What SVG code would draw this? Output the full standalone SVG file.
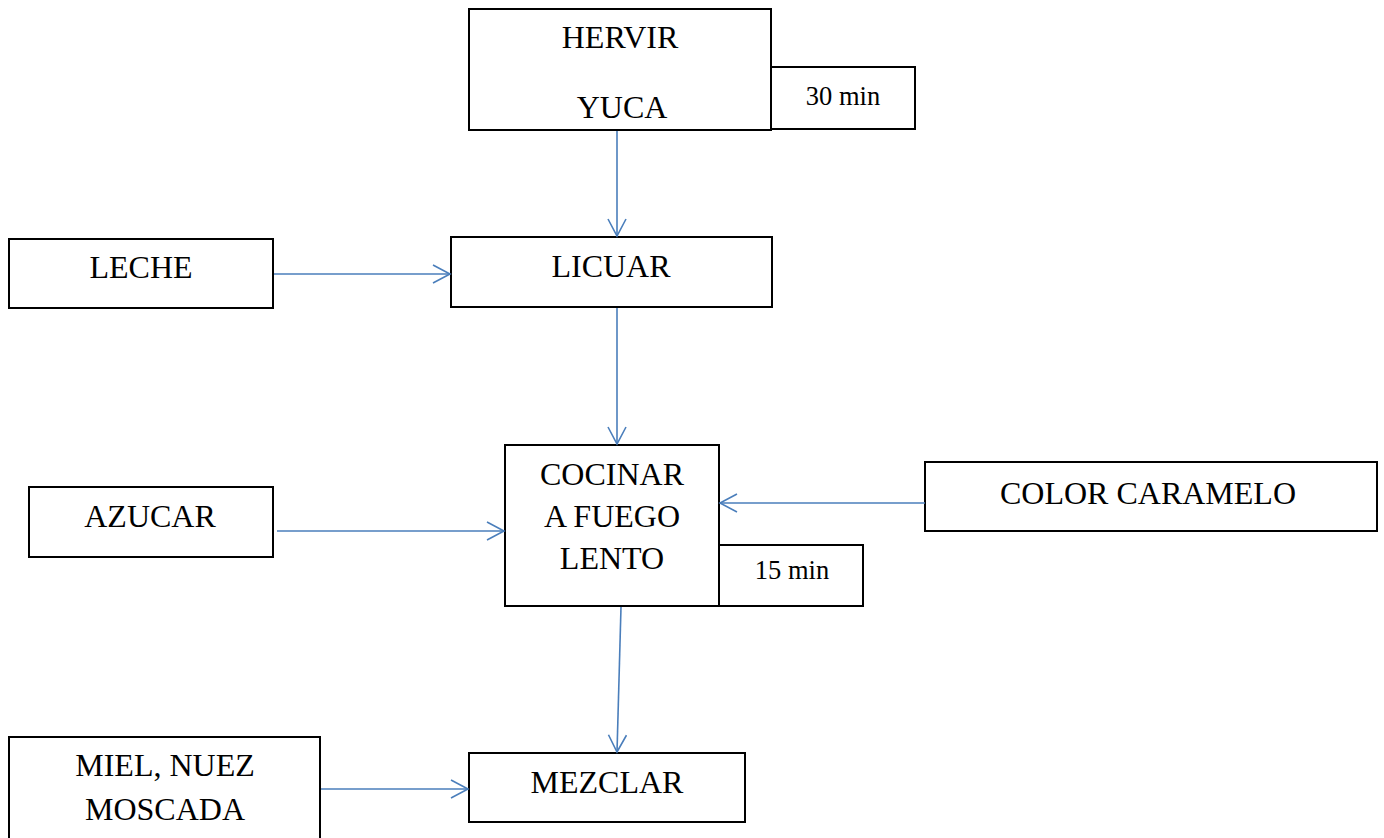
<svg xmlns="http://www.w3.org/2000/svg" width="1384" height="838" viewBox="0 0 1384 838">
<style>
.box{fill:#fff;stroke:#000;stroke-width:2}
.t{font-family:"Liberation Serif","Times New Roman",serif;font-size:32px;fill:#000;text-anchor:middle}
.s{font-family:"Liberation Serif","Times New Roman",serif;font-size:26.5px;fill:#000;text-anchor:middle}
.c{fill:none;stroke:#4A7EBB;stroke-width:1.6}
</style>
<defs>
<marker id="ah" markerUnits="userSpaceOnUse" viewBox="0 0 20 20" refX="18" refY="10" markerWidth="20" markerHeight="20" orient="auto">
<path d="M1,1 L18,10 L1,19" fill="none" stroke="#4A7EBB" stroke-width="1.6"/>
</marker>
</defs>
<rect width="1384" height="838" fill="#fff"/>
<g id="hervir">
<rect class="box" x="469" y="9" width="302" height="121"/>
<text class="t" x="620" y="48">HERVIR</text>
<text class="t" x="622" y="118">YUCA</text>
</g>
<g id="t30">
<rect class="box" x="771" y="67" width="144" height="62"/>
<text class="s" x="843" y="105">30 min</text>
</g>
<g id="leche">
<rect class="box" x="9" y="239" width="264" height="69"/>
<text class="t" x="141" y="278">LECHE</text>
</g>
<g id="licuar">
<rect class="box" x="451" y="237" width="321" height="70"/>
<text class="t" x="611" y="277">LICUAR</text>
</g>
<g id="azucar">
<rect class="box" x="29" y="487" width="244" height="70"/>
<text class="t" x="150" y="527">AZUCAR</text>
</g>
<g id="cocinar">
<rect class="box" x="505" y="445" width="214" height="161"/>
<text class="t" x="612" y="485">COCINAR</text>
<text class="t" x="612" y="527">A FUEGO</text>
<text class="t" x="612" y="569">LENTO</text>
</g>
<g id="t15">
<rect class="box" x="719" y="545" width="144" height="61"/>
<text class="s" x="792" y="579">15 min</text>
</g>
<g id="caramelo">
<rect class="box" x="925" y="462" width="452" height="69"/>
<text class="t" x="1148" y="504">COLOR CARAMELO</text>
</g>
<g id="miel">
<rect class="box" x="9" y="737" width="311" height="110"/>
<text class="t" x="165" y="776">MIEL, NUEZ</text>
<text class="t" x="165" y="820">MOSCADA</text>
</g>
<g id="mezclar">
<rect class="box" x="469" y="753" width="276" height="69"/>
<text class="t" x="607" y="793">MEZCLAR</text>
</g>
<g id="connectors">
<line class="c" x1="617" y1="131" x2="617" y2="236" marker-end="url(#ah)"/>
<line class="c" x1="274" y1="274" x2="450" y2="274" marker-end="url(#ah)"/>
<line class="c" x1="617" y1="308" x2="617" y2="444" marker-end="url(#ah)"/>
<line class="c" x1="277" y1="531" x2="504" y2="531" marker-end="url(#ah)"/>
<line class="c" x1="925" y1="503" x2="720" y2="503" marker-end="url(#ah)"/>
<line class="c" x1="621" y1="607" x2="617" y2="752" marker-end="url(#ah)"/>
<line class="c" x1="321" y1="789" x2="468" y2="789" marker-end="url(#ah)"/>
</g>
</svg>
